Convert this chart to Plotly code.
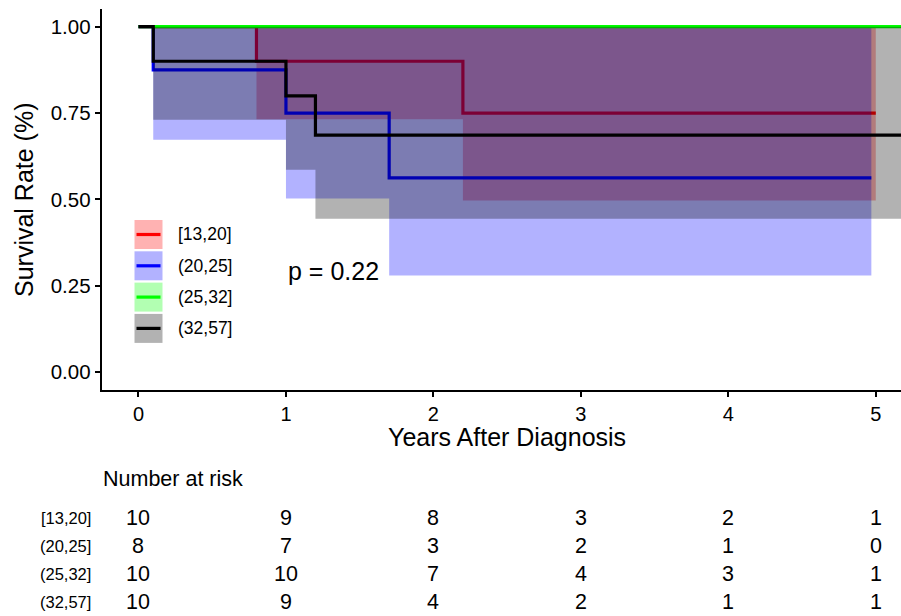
import plotly.graph_objects as go

# ---------------- data ----------------
groups = ["[13,20]", "(20,25]", "(25,32]", "(32,57]"]
line_colors = ["#FF0000", "#0000FF", "#00FF00", "#000000"]
fill_colors = ["rgba(255,0,0,0.3)", "rgba(0,0,255,0.3)", "rgba(0,255,0,0.3)", "rgba(0,0,0,0.3)"]

red_time = [0, 0.8, 2.2, 5.0]
red_surv = [1, 0.9, 0.75, 0.75]
red_lower = [1, 0.732, 0.497, 0.497]
red_upper = [1, 1, 1, 1]

blue_time = [0, 0.1, 1.0, 1.7, 4.97]
blue_surv = [1, 0.875, 0.75, 0.5625, 0.5625]
blue_lower = [1, 0.673, 0.503, 0.28, 0.28]
blue_upper = [1, 1, 1, 1, 1]

green_time = [0, 5.25]
green_surv = [1, 1]
green_lower = [1, 1]
green_upper = [1, 1]

black_time = [0, 0.1, 1.0, 1.2, 5.25]
black_surv = [1, 0.9, 0.8, 0.686, 0.686]
black_lower = [1, 0.731, 0.586, 0.444, 0.444]
black_upper = [1, 1, 1, 1, 1]

p_value_text = "p = 0.22"

risk_times = [0, 1, 2, 3, 4, 5]
risk_red = [10, 9, 8, 3, 2, 1]
risk_blue = [8, 7, 3, 2, 1, 0]
risk_green = [10, 10, 7, 4, 3, 1]
risk_black = [10, 9, 4, 2, 1, 1]

x_ticks = [0, 1, 2, 3, 4, 5]
y_ticks = [0, 0.25, 0.5, 0.75, 1.0]
y_tick_labels = ["0.00", "0.25", "0.50", "0.75", "1.00"]

series = [
    (red_time, red_surv, red_lower, red_upper),
    (blue_time, blue_surv, blue_lower, blue_upper),
    (green_time, green_surv, green_lower, green_upper),
    (black_time, black_surv, black_lower, black_upper),
]
risk_rows = [risk_red, risk_blue, risk_green, risk_black]

# ---------------- layout helpers ----------------
W, H = 901, 616
FONT = "Arial, Liberation Sans, sans-serif"


def px(x):
    return x / W


def py(y):
    return 1 - y / H


fig = go.Figure()

for i, (t, s, lo, up) in enumerate(series):
    fig.add_trace(go.Scatter(x=t, y=lo, mode="lines", line=dict(width=0, shape="hv"),
                             hoverinfo="skip", showlegend=False))
    fig.add_trace(go.Scatter(x=t, y=up, mode="lines", line=dict(width=0, shape="hv"),
                             fill="tonexty", fillcolor=fill_colors[i],
                             hoverinfo="skip", showlegend=False))
    fig.add_trace(go.Scatter(x=t, y=s, mode="lines", name=groups[i],
                             line=dict(color=line_colors[i], width=3.2, shape="hv"),
                             showlegend=False))

annotations = []
shapes = []

# manual legend
leg_y = [234.5, 265.8, 297.1, 328.4]
for i, g in enumerate(groups):
    yc = leg_y[i]
    shapes.append(dict(type="rect", xref="paper", yref="paper",
                       x0=px(134.5), x1=px(162.5), y0=py(yc - 14.5), y1=py(yc + 14.5),
                       fillcolor=fill_colors[i], line=dict(width=0), layer="above"))
    shapes.append(dict(type="line", xref="paper", yref="paper",
                       x0=px(136.5), x1=px(160.5), y0=py(yc), y1=py(yc),
                       line=dict(color=line_colors[i], width=3.2), layer="above"))
    annotations.append(dict(text=g, xref="paper", yref="paper", x=px(175.5), y=py(yc),
                            xanchor="left", yanchor="middle", showarrow=False,
                            font=dict(family=FONT, size=17.5, color="black")))

# p-value
annotations.append(dict(text=p_value_text, xref="paper", yref="paper", x=px(333), y=py(271),
                        xanchor="center", yanchor="middle", showarrow=False,
                        font=dict(family=FONT, size=25, color="black")))

# axis titles
annotations.append(dict(text="Years After Diagnosis", xref="paper", yref="paper",
                        x=px(507.5), y=py(437), xanchor="center", yanchor="middle",
                        showarrow=False, borderpad=0,
                        font=dict(family=FONT, size=25, color="black")))
annotations.append(dict(text="Survival Rate (%)", xref="paper", yref="paper",
                        x=px(23.5), y=py(199.5), xanchor="center", yanchor="middle", textangle=-90,
                        showarrow=False, font=dict(family=FONT, size=25, color="black")))

# risk table
annotations.append(dict(text="Number at risk", xref="paper", yref="paper",
                        x=px(101), y=py(478.5), xanchor="left", yanchor="middle",
                        showarrow=False, font=dict(family=FONT, size=21.5, color="black")))
row_y = [517.5, 545.5, 574, 602]
for r, row in enumerate(risk_rows):
    annotations.append(dict(text=groups[r], xref="paper", yref="paper",
                            x=px(92.5), y=py(row_y[r]), xanchor="right", yanchor="middle",
                            showarrow=False, font=dict(family=FONT, size=16.5, color="black")))
    for t, v in zip(risk_times, row):
        annotations.append(dict(text=str(v), xref="x", yref="paper",
                                x=t, y=py(row_y[r]), xanchor="center", yanchor="middle",
                                showarrow=False, font=dict(family=FONT, size=21.5, color="black")))

fig.update_layout(
    width=W, height=H,
    margin=dict(l=0, r=0, t=0, b=0),
    paper_bgcolor="white", plot_bgcolor="white",
    showlegend=False,
    annotations=annotations,
    shapes=shapes,
    xaxis=dict(domain=[px(101.7), 1], range=[-0.2495, 5.171],
               tickvals=x_ticks, ticktext=[str(v) for v in x_ticks],
               showgrid=False, zeroline=False, showline=True, linecolor="black", linewidth=2,
               ticks="outside", ticklen=5, tickwidth=1.8, tickcolor="black",
               tickfont=dict(family=FONT, size=20, color="black")),
    yaxis=dict(domain=[py(389.5), py(9.4)], range=[-0.05, 1.05],
               tickvals=y_ticks, ticktext=y_tick_labels,
               showgrid=False, zeroline=False, showline=True, linecolor="black", linewidth=2,
               ticks="outside", ticklen=5, tickwidth=1.8, tickcolor="black",
               tickfont=dict(family=FONT, size=20.5, color="black")),
)

fig.write_html("out.html")
